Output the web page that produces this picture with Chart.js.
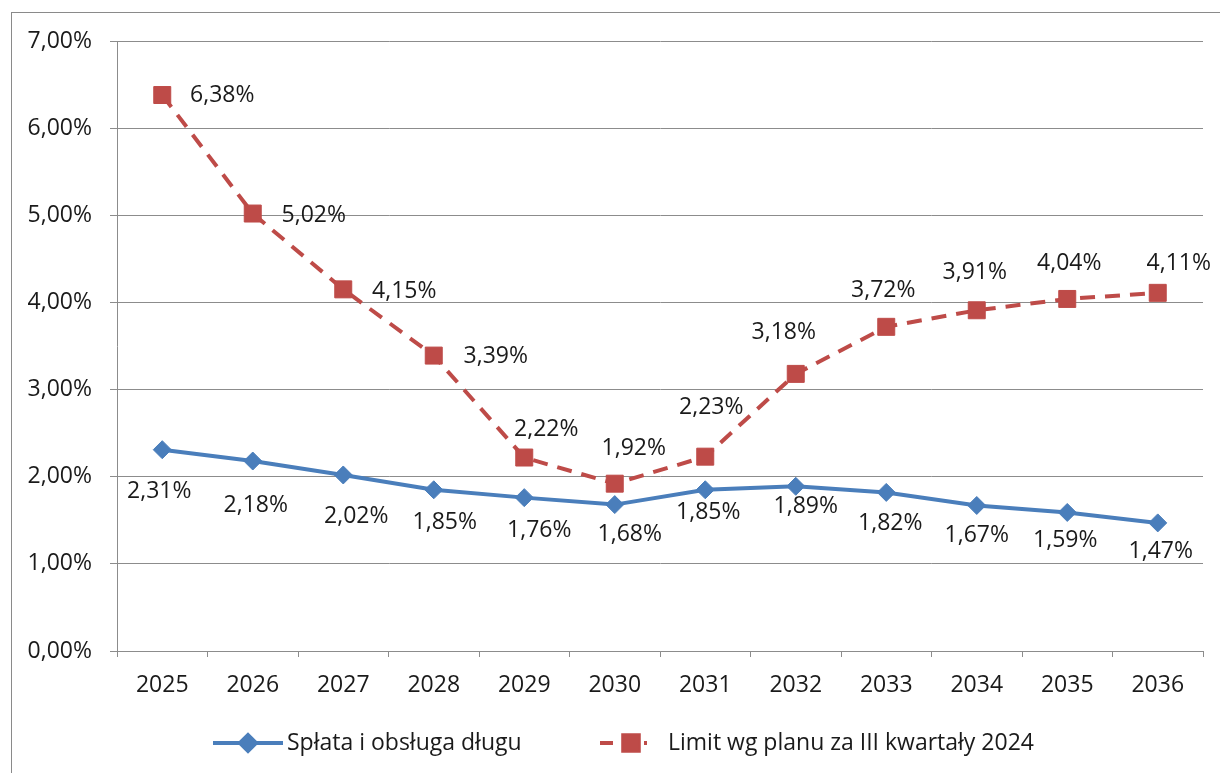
<!DOCTYPE html>
<html>
<head>
<meta charset="utf-8">
<script src="https://cdn.jsdelivr.net/npm/chart.js@4.4.1/dist/chart.umd.min.js"></script>
<style>
  html, body { margin: 0; padding: 0; background: #fff; overflow: hidden; }
  #wrap { position: relative; width: 1220px; height: 773px; }
  #frame { position: absolute; left: 11px; top: 12px; width: 1400px; height: 1000px; border: 1px solid #8a8a8a; box-sizing: border-box; }
  #c { position: absolute; left: 0; top: 0; }
</style>
</head>
<body>
<div id="wrap">
  <div id="frame"></div>
  <canvas id="c" width="1220" height="773"></canvas>
</div>
<script>
// ---- data ----
const years = ['2025','2026','2027','2028','2029','2030','2031','2032','2033','2034','2035','2036'];
const splataValues = [2.31, 2.18, 2.02, 1.85, 1.76, 1.68, 1.85, 1.89, 1.82, 1.67, 1.59, 1.47];
const limitValues  = [6.38, 5.02, 4.15, 3.39, 2.22, 1.92, 2.23, 3.18, 3.72, 3.91, 4.04, 4.11];
const seriesNames = ['Spłata i obsługa długu', 'Limit wg planu za III kwartały 2024'];
const yTicks = [0, 1, 2, 3, 4, 5, 6, 7];

// ---- styling ----
const FONT = '"Open Sans", "DejaVu Sans", sans-serif';
const FSIZE = 23;
const TEXT = '#1a1a1a';
const GRID = '#8c8c8c';
const BLUE = '#4A7EBB';
const RED = '#BE4B48';
// label offsets (relative to each point), text centered
const blueLabelOffsets = [[-3,42],[3,44],[13,41],[11,33],[15,33],[15,30],[3,23],[10,20],[4,31],[0,30],[-2,28],[3,29]];
const redLabelOffsets  = [[60,0],[61,2],[61,2],[62,1],[22,-28],[19,-35],[6,-49],[-12,-41],[-3,-36],[-2,-38],[2,-35],[21,-29]];

const fmt = v => v.toFixed(2).replace('.', ',') + '%';

const labelPlugin = {
  id: 'pointLabels',
  afterDatasetsDraw(chart) {
    const ctx = chart.ctx;
    ctx.save();
    ctx.font = FSIZE + 'px ' + FONT;
    ctx.fillStyle = TEXT;
    ctx.textAlign = 'center';
    ctx.textBaseline = 'middle';
    const offs = [blueLabelOffsets, redLabelOffsets];
    chart.data.datasets.forEach((ds, di) => {
      const meta = chart.getDatasetMeta(di);
      meta.data.forEach((pt, i) => {
        const o = offs[di][i];
        ctx.fillText(fmt(ds.data[i]), pt.x + o[0], pt.y + o[1]);
      });
    });
    ctx.restore();
  }
};

const legendPlugin = {
  id: 'customLegend',
  afterDraw(chart) {
    const ctx = chart.ctx;
    const y = 743;
    const items = [
      { x0: 213, x1: 283, mx: 248, color: BLUE, dash: [], style: 'rectRot', r: 8, text: seriesNames[0], tx: 287 },
      { x0: 600, x1: 647, mx: 631, color: RED, dash: [13, 9], style: 'rect', r: 11, text: seriesNames[1], tx: 668 }
    ];
    ctx.save();
    items.forEach(it => {
      ctx.strokeStyle = it.color;
      ctx.lineWidth = 4;
      ctx.setLineDash(it.dash);
      ctx.beginPath();
      ctx.moveTo(it.x0, y);
      ctx.lineTo(it.x1, y);
      ctx.stroke();
      ctx.setLineDash([]);
      Chart.helpers.drawPoint(ctx, { pointStyle: it.style, radius: it.r, borderWidth: 1, rotation: 0 }, it.mx, y);
      ctx.fillStyle = it.color;
      ctx.fill();
      ctx.font = FSIZE + 'px ' + FONT;
      ctx.fillStyle = TEXT;
      ctx.textAlign = 'left';
      ctx.textBaseline = 'middle';
      ctx.fillText(it.text, it.tx, y);
    });
    ctx.restore();
  }
};

new Chart(document.getElementById('c'), {
  type: 'line',
  data: {
    labels: years,
    datasets: [
      {
        label: seriesNames[0],
        data: splataValues,
        borderColor: BLUE,
        backgroundColor: BLUE,
        borderWidth: 4,
        pointStyle: 'rectRot',
        pointRadius: 9,
        pointBackgroundColor: BLUE,
        pointBorderColor: BLUE,
        pointBorderWidth: 1,
        tension: 0
      },
      {
        label: seriesNames[1],
        data: limitValues,
        borderColor: RED,
        backgroundColor: RED,
        borderWidth: 4,
        borderDash: [15, 10],
        pointStyle: 'rect',
        pointRadius: 12,
        pointBackgroundColor: RED,
        pointBorderColor: RED,
        pointBorderWidth: 1,
        tension: 0
      }
    ]
  },
  options: {
    responsive: false,
    animation: false,
    events: [],
    layout: { padding: { left: 0, right: 17, top: 41, bottom: 0 } },
    plugins: {
      legend: { display: false },
      tooltip: { enabled: false }
    },
    scales: {
      x: {
        offset: true,
        grid: { display: true, drawOnChartArea: false, drawTicks: true, tickLength: 6, color: GRID, offset: true },
        border: { color: GRID, width: 1 },
        ticks: { font: { family: FONT, size: FSIZE }, color: TEXT, padding: 15, maxRotation: 0, autoSkip: false },
        afterFit(scale) { scale.height = 122; }
      },
      y: {
        min: 0,
        max: 7,
        afterBuildTicks(scale) { scale.ticks = yTicks.map(v => ({ value: v })); },
        grid: { color: GRID, tickLength: 7, drawTicks: true },
        border: { color: GRID, width: 1 },
        ticks: { font: { family: FONT, size: FSIZE }, color: TEXT, padding: 18, callback: v => fmt(v) },
        afterFit(scale) { scale.width = 117; }
      }
    }
  },
  plugins: [labelPlugin, legendPlugin]
});
</script>
</body>
</html>
